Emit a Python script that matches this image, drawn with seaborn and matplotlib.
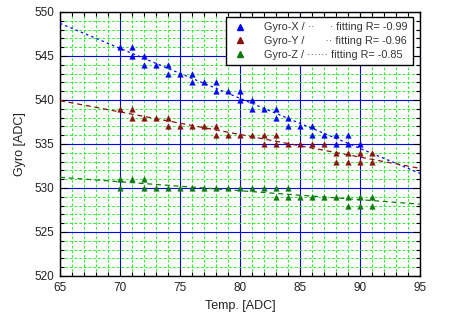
import numpy as np
import pandas as pd
import seaborn as sns
import matplotlib
matplotlib.use("Agg")
import matplotlib.pyplot as plt
from matplotlib.lines import Line2D
from matplotlib.ticker import MultipleLocator

# ---- data ----
x_gyro_x = [70, 71, 71, 72, 72, 73, 74, 74, 75, 76, 76, 77, 78, 78, 79, 80, 80,
            81, 81, 82, 83, 83, 84, 84, 85, 86, 86, 87, 88, 88, 89, 89, 90]
y_gyro_x = [546, 546, 545, 545, 544, 544, 544, 543, 543, 543, 542, 542, 542, 541, 541, 541, 540,
            540, 539, 539, 539, 538, 538, 537, 537, 537, 536, 536, 536, 535, 536, 535, 535]

x_gyro_y = [70, 71, 71, 72, 73, 74, 74, 75, 76, 77, 78, 78, 79, 80, 81, 82, 82,
            83, 83, 84, 85, 86, 87, 88, 88, 89, 89, 90, 90, 91, 91]
y_gyro_y = [539, 539, 538, 538, 538, 538, 537, 537, 537, 537, 537, 536, 536, 536, 536, 536, 535,
            536, 535, 535, 535, 535, 535, 534, 533, 534, 533, 534, 533, 534, 533]

x_gyro_z = [70, 70, 71, 72, 72, 73, 74, 75, 76, 77, 78, 79, 80, 81, 82, 83, 83,
            84, 84, 85, 86, 87, 88, 89, 89, 90, 90, 91, 91]
y_gyro_z = [531, 530, 531, 531, 530, 530, 530, 530, 530, 530, 530, 530, 530, 530, 530, 530, 529,
            530, 529, 529, 529, 529, 529, 529, 528, 529, 528, 529, 528]

series_labels = ["Gyro-X / \u00b7\u00b7     \u00b7 fitting R= -0.99",
                 "Gyro-Y /       \u00b7\u00b7 fitting R= -0.96",
                 "Gyro-Z / \u00b7\u00b7\u00b7\u00b7\u00b7\u00b7 fitting R= -0.85"]
series_colors = ["#0000ff", "#8b1010", "#107a10"]
fit_dashes = [(0, (2.0, 2.5)), (0, (4, 3)), (0, (4, 3))]

x_limits = (65, 95)
y_limits = (520, 550)

sns.set_theme(style="white")
plt.rcParams["font.family"] = ["Liberation Sans", "DejaVu Sans"]

fig = plt.figure(figsize=(4.6, 3.2), dpi=100)
ax = fig.add_axes([60 / 460, 1 - 276 / 320, 360 / 460, 264 / 320])
ax.set_xlim(*x_limits)
ax.set_ylim(*y_limits)

# grids
ax.xaxis.set_major_locator(MultipleLocator(5))
ax.yaxis.set_major_locator(MultipleLocator(5))
ax.xaxis.set_minor_locator(MultipleLocator(1))
ax.yaxis.set_minor_locator(MultipleLocator(1))
ax.grid(which="minor", color="#33ee33", linestyle=(0, (2.5, 2.0)), linewidth=0.75, zorder=0)
ax.grid(which="major", color="#0000ee", linestyle="-", linewidth=0.8, zorder=0)
ax.set_axisbelow(True)

data = [(x_gyro_x, y_gyro_x), (x_gyro_y, y_gyro_y), (x_gyro_z, y_gyro_z)]
for (xs, ys), c, ls in zip(data, series_colors, fit_dashes):
    df = pd.DataFrame({"t": xs, "g": ys})
    sns.regplot(data=df, x="t", y="g", ax=ax, scatter=False, ci=None, truncate=False,
                color=c, line_kws=dict(linestyle=ls, linewidth=0.9, zorder=3))
    sns.scatterplot(data=df, x="t", y="g", ax=ax, color=c, marker="^", s=16,
                    edgecolor=c, linewidth=0.3, zorder=4)

ax.set_xlim(*x_limits)
ax.set_ylim(*y_limits)

for sp in ax.spines.values():
    sp.set_color("black")
    sp.set_linewidth(1.0)

ax.tick_params(which="both", direction="in", top=True, right=True, bottom=True, left=True,
               colors="black", labelcolor="#222222", labelsize=8.5)
ax.tick_params(which="major", length=5, width=0.8, pad=4)
ax.tick_params(which="minor", length=3, width=0.8)

ax.set_xlabel("Temp. [ADC]", fontsize=9, color="#222222", labelpad=5)
ax.set_ylabel("Gyro [ADC]", fontsize=9, color="#222222", labelpad=6)

handles = [Line2D([], [], linestyle="none", marker="^", color=c, markersize=4.5) for c in series_colors]
leg = ax.legend(handles, series_labels, loc="upper right",
                bbox_to_anchor=((413 - 60) / 360, (276 - 17) / 264),
                fontsize=7.8, frameon=True, fancybox=False, framealpha=1,
                edgecolor="black", borderpad=0.5, labelspacing=0.35, handletextpad=1.4,
                handlelength=1.6, borderaxespad=0)
leg.get_frame().set_linewidth(1.0)
for t in leg.get_texts():
    t.set_color("#333333")

fig.savefig("out.png", dpi=100)
